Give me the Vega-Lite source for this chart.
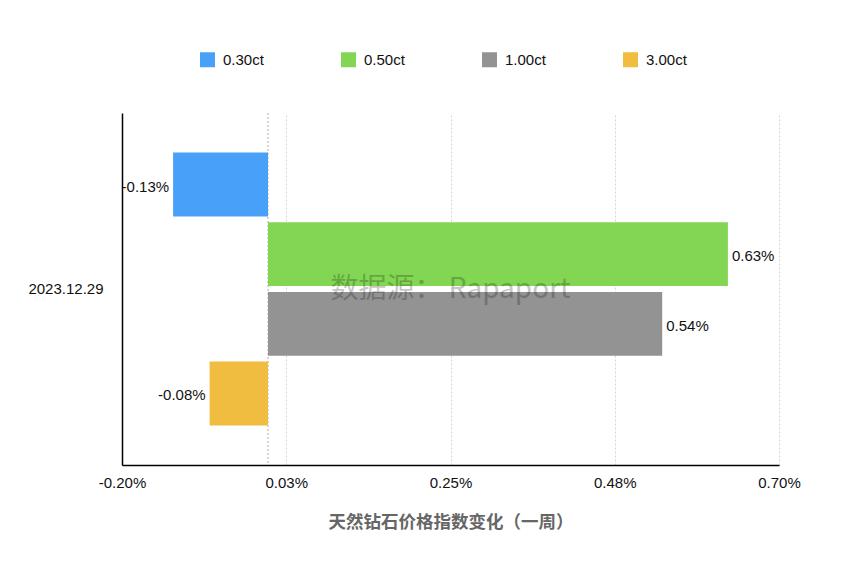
{
  "$schema": "https://vega.github.io/schema/vega-lite/v6.json",
  "autosize": "none",
  "width": 657,
  "height": 352,
  "padding": {"left": 122, "top": 113, "right": 85, "bottom": 112},
  "background": "white",
  "config": {
    "view": {"stroke": null},
    "font": "Liberation Sans",
    "text": {"font": "Liberation Sans"}
  },
  "data": {
    "values": [
      {"date": "2023.12.29", "size": "0.30ct", "value": -0.13},
      {"date": "2023.12.29", "size": "0.50ct", "value": 0.63},
      {"date": "2023.12.29", "size": "1.00ct", "value": 0.54},
      {"date": "2023.12.29", "size": "3.00ct", "value": -0.08}
    ]
  },
  "transform": [
    {"calculate": "replace(format(datum.value, '.2f'), '\u2212', '-') + '%'", "as": "label"}
  ],
  "encoding": {
    "y": {
      "field": "date",
      "type": "nominal",
      "scale": {"paddingInner": 0, "paddingOuter": 0.145},
      "axis": {
        "title": null,
        "ticks": false,
        "domainColor": "#000",
        "domainWidth": 1.5,
        "labelFontSize": 15,
        "labelColor": "#111",
        "labelPadding": 19,
        "labelAngle": 0
      }
    }
  },
  "layer": [
    {
      "mark": {"type": "rule", "strokeDash": [2, 2], "color": "#d4d4d4", "strokeWidth": 1},
      "encoding": {"x": {"datum": 0, "type": "quantitative"}, "y": null}
    },
    {
      "mark": {"type": "bar"},
      "encoding": {
        "x": {
          "field": "value",
          "type": "quantitative",
          "scale": {"domain": [-0.2, 0.7], "nice": false, "zero": false},
          "axis": {
            "values": [-0.2, 0.025, 0.25, 0.475, 0.7],
            "labelExpr": "replace(format(round(datum.value*100)/100, '.2f'), '\u2212', '-') + '%'",
            "labelFlush": false,
            "labelOverlap": false,
            "ticks": false,
            "grid": true,
            "gridDash": [2, 2],
            "gridColor": "#d4d4d4",
            "gridWidth": 1,
            "domainColor": "#000",
            "domainWidth": 1.5,
            "labelFontSize": 15,
            "labelColor": "#111",
            "labelPadding": 10,
            "title": "天然钻石价格指数变化（一周）",
            "titleFont": "Noto Sans CJK SC",
            "titleFontSize": 17.5,
            "titleFontWeight": "bold",
            "titleColor": "#666666",
            "titlePadding": 23
          }
        },
        "yOffset": {"field": "size", "type": "nominal", "scale": {"paddingInner": 0.083, "paddingOuter": 0}},
        "color": {
          "field": "size",
          "type": "nominal",
          "scale": {
            "domain": ["0.30ct", "0.50ct", "1.00ct", "3.00ct"],
            "range": ["#48A0F8", "#82D653", "#939393", "#F0BD40"]
          },
          "legend": {
            "orient": "none",
            "legendX": 78,
            "legendY": -61,
            "direction": "horizontal",
            "columns": 4,
            "title": null,
            "symbolType": "square",
            "symbolSize": 225,
            "symbolStrokeWidth": 0,
            "symbolOpacity": 1,
            "labelFontSize": 15,
            "labelColor": "#111",
            "labelOffset": 8,
            "columnPadding": 77
          }
        }
      }
    },
    {
      "transform": [{"filter": "datum.value >= 0"}],
      "mark": {"type": "text", "align": "left", "dx": 4, "dy": 2, "fontSize": 15, "color": "#111", "baseline": "middle"},
      "encoding": {
        "x": {"field": "value", "type": "quantitative"},
        "yOffset": {"field": "size", "type": "nominal"},
        "text": {"field": "label"}
      }
    },
    {
      "transform": [{"filter": "datum.value < 0"}],
      "mark": {"type": "text", "align": "right", "dx": -4, "dy": 2, "fontSize": 15, "color": "#111", "baseline": "middle"},
      "encoding": {
        "x": {"field": "value", "type": "quantitative"},
        "yOffset": {"field": "size", "type": "nominal"},
        "text": {"field": "label"}
      }
    },
    {
      "data": {"values": [{"t": "数据源： Rapaport"}]},
      "mark": {"type": "text", "fontSize": 28, "font": "Noto Sans CJK SC", "color": "#000", "opacity": 0.22, "align": "center", "baseline": "middle", "dy": 1},
      "encoding": {
        "x": {"datum": 0.25, "type": "quantitative"},
        "y": {"datum": "2023.12.29", "type": "nominal"},
        "text": {"field": "t"}
      }
    }
  ]
}
